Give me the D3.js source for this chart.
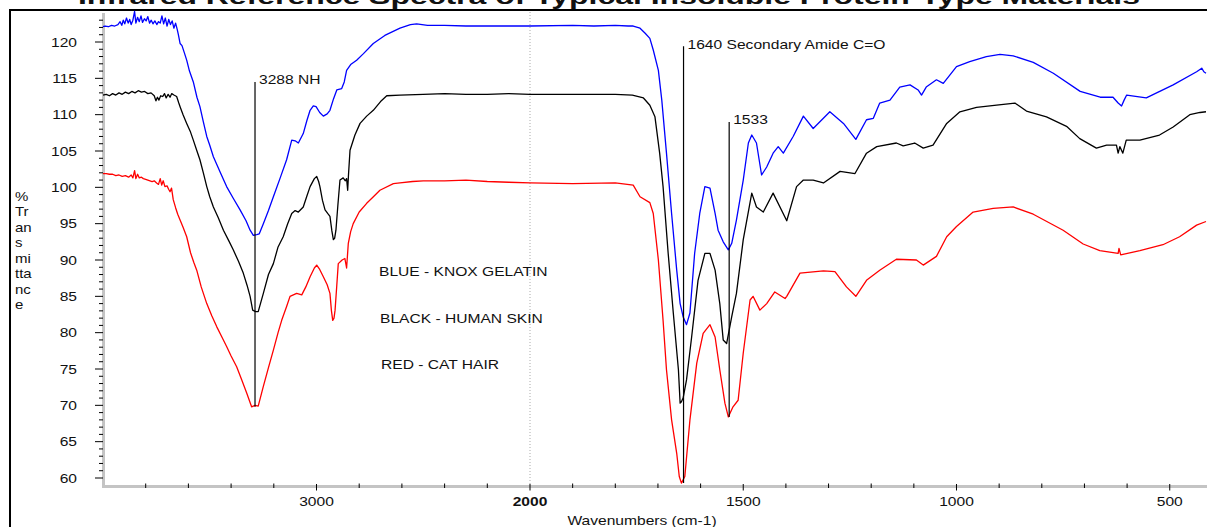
<!DOCTYPE html>
<html>
<head>
<meta charset="utf-8">
<script src="https://cdn.jsdelivr.net/npm/d3@7"></script>
<style>
  html, body { margin: 0; padding: 0; background: #fff; overflow: hidden; }
  svg { display: block; }
  text { font-family: Arial, "Liberation Sans", sans-serif; fill: #111; }
</style>
</head>
<body>
<svg id="chart" width="1207" height="527"></svg>
<script>
// Spectra: [wavenumber cm-1, % transmittance]
const knoxGelatin = [
  [4000,122.1],[3990,122.2],[3975,122.1],[3960,122.3],[3945,122.2],[3930,122.4],[3920,122.8],[3912,122.3],
  [3905,123.0],[3898,122.5],[3890,123.3],[3882,122.6],[3875,123.1],[3868,122.4],[3860,123.0],[3852,124.2],
  [3846,122.6],[3838,123.4],[3830,122.8],[3822,123.6],[3815,122.7],[3806,123.2],[3798,122.9],[3790,123.5],
  [3782,122.6],[3774,123.0],[3766,122.5],[3757,122.9],[3748,122.4],[3740,122.8],[3732,122.6],[3724,123.6],
  [3716,122.5],[3708,123.3],[3700,122.2],[3692,123.1],[3684,122.4],[3676,122.9],[3668,121.9],[3660,122.6],
  [3653,121.8],[3647,121.0],[3639,119.8],[3630,119.5],[3620,118.6],[3608,117.5],[3595,116.0],[3577,114.5],
  [3560,112.4],[3546,111.1],[3530,109.0],[3514,107.0],[3500,105.8],[3483,104.2],[3450,102.0],[3421,100.1],
  [3390,98.5],[3358,96.9],[3330,95.4],[3311,94.1],[3296,93.4],[3280,93.5],[3268,93.6],[3249,95.0],
  [3225,96.8],[3202,98.7],[3170,101.3],[3140,103.8],[3116,106.5],[3100,106.4],[3085,106.1],[3062,107.4],
  [3045,109.2],[3030,110.6],[3015,111.2],[3002,111.1],[2985,110.3],[2968,109.8],[2950,110.1],[2937,110.6],
  [2920,112.2],[2905,113.4],[2882,113.6],[2870,114.5],[2859,116.1],[2840,116.9],[2812,117.5],[2780,118.4],
  [2734,119.8],[2680,120.9],[2609,121.9],[2560,122.4],[2531,122.5],[2480,122.3],[2400,122.3],[2300,122.2],
  [2200,122.2],[2100,122.2],[2000,122.2],[1900,122.3],[1850,122.2],[1800,122.3],[1770,122.2],[1758,122.2],
  [1742,121.9],[1730,121.2],[1719,120.5],[1711,118.9],[1699,116.1],[1691,112.0],[1680,104.7],[1668,96.4],
  [1656,88.6],[1648,84.0],[1641,82.2],[1633,81.1],[1625,82.7],[1614,90.9],[1602,96.4],[1590,100.1],
  [1578,99.9],[1566,96.4],[1559,94.1],[1547,92.5],[1535,91.4],[1527,92.3],[1516,95.5],[1500,101.0],
  [1488,106.1],[1480,107.2],[1469,106.1],[1457,101.7],[1445,102.8],[1430,104.7],[1418,105.6],[1406,104.7],
  [1383,107.0],[1359,109.8],[1336,108.1],[1297,110.4],[1265,108.8],[1236,106.6],[1211,109.3],[1195,109.5],
  [1180,111.6],[1156,112.0],[1133,113.8],[1109,114.1],[1090,113.4],[1082,112.7],[1071,113.8],[1047,114.8],
  [1031,114.3],[1000,116.6],[969,117.3],[930,118.0],[898,118.3],[867,118.1],[820,117.2],[773,115.7],
  [710,113.2],[663,112.4],[633,112.4],[621,111.6],[613,111.2],[607,112.0],[601,112.7],[555,112.3],
  [492,114.1],[437,115.9],[425,116.4],[420,115.9],[415,115.7]
];

const humanSkin = [
  [4000,112.7],[3985,112.8],[3970,112.6],[3955,112.9],[3940,112.7],[3925,113.0],[3910,112.8],[3895,113.1],
  [3880,112.9],[3865,113.2],[3850,113.0],[3835,113.3],[3820,113.1],[3805,113.2],[3790,112.9],[3775,113.0],
  [3760,112.6],[3752,111.9],[3745,112.4],[3738,112.0],[3730,112.6],[3720,112.5],[3712,112.9],[3704,112.3],
  [3695,112.8],[3686,112.4],[3678,112.9],[3668,112.7],[3655,112.5],[3645,111.6],[3639,111.1],[3625,110.0],
  [3608,108.8],[3590,107.6],[3577,106.5],[3560,105.0],[3546,103.8],[3530,102.0],[3514,100.1],[3500,98.7],
  [3483,97.3],[3460,95.8],[3436,94.1],[3410,92.6],[3390,91.4],[3365,89.8],[3343,88.2],[3325,86.5],
  [3311,85.0],[3299,83.1],[3285,82.9],[3273,82.9],[3249,85.4],[3225,88.0],[3202,89.5],[3180,91.8],
  [3156,93.2],[3135,95.0],[3116,96.4],[3100,96.8],[3085,96.6],[3062,97.3],[3045,98.8],[3030,100.1],
  [3010,101.2],[2999,101.5],[2990,100.8],[2984,100.1],[2972,98.2],[2960,96.9],[2945,96.3],[2937,96.0],
  [2928,94.0],[2921,92.8],[2915,93.0],[2909,94.1],[2900,97.5],[2890,101.0],[2875,101.3],[2865,100.9],
  [2859,101.2],[2854,99.6],[2850,101.8],[2843,105.1],[2820,107.2],[2796,108.8],[2765,109.8],[2734,110.6],
  [2700,111.8],[2671,112.6],[2609,112.7],[2500,112.8],[2400,112.9],[2300,112.8],[2200,112.8],[2100,112.9],
  [2000,112.8],[1900,112.8],[1800,112.8],[1760,112.7],[1734,112.3],[1719,111.3],[1707,109.7],[1696,104.7],
  [1688,100.1],[1676,90.9],[1664,82.7],[1652,74.9],[1648,70.3],[1645,70.5],[1641,71.0],[1633,73.5],
  [1621,79.4],[1606,87.2],[1590,90.9],[1578,90.9],[1566,88.6],[1555,84.0],[1547,79.0],[1539,78.5],
  [1527,82.2],[1516,85.4],[1500,92.8],[1480,99.2],[1469,97.3],[1453,96.6],[1430,99.2],[1398,95.4],
  [1375,100.1],[1359,101.0],[1336,101.0],[1312,100.6],[1273,102.2],[1238,101.9],[1211,104.7],[1187,105.6],
  [1141,106.1],[1125,105.7],[1098,106.1],[1078,105.4],[1055,105.8],[1023,108.8],[992,110.4],[953,111.0],
  [906,111.3],[863,111.6],[836,110.5],[789,109.7],[742,108.4],[711,106.7],[672,105.4],[648,105.8],
  [625,105.8],[621,104.7],[617,105.6],[610,104.7],[602,106.5],[570,106.5],[524,107.2],[492,108.3],
  [453,110.0],[429,110.3],[415,110.4]
];

const catHair = [
  [4000,101.9],[3985,101.9],[3970,101.8],[3955,101.8],[3940,101.6],[3925,101.7],[3910,101.5],[3895,101.6],
  [3880,101.4],[3868,101.7],[3860,101.3],[3852,102.3],[3846,101.2],[3838,101.8],[3830,101.3],[3820,101.4],
  [3811,101.2],[3800,101.1],[3790,101.0],[3780,100.9],[3770,100.8],[3760,100.9],[3749,100.6],[3740,100.4],
  [3732,101.2],[3725,100.3],[3718,100.9],[3710,100.1],[3700,100.2],[3692,99.7],[3686,99.4],[3679,99.9],
  [3671,98.3],[3660,97.2],[3650,96.3],[3639,95.5],[3625,94.5],[3608,93.2],[3590,91.0],[3575,89.7],
  [3561,88.6],[3540,86.3],[3514,84.0],[3490,82.3],[3467,80.8],[3445,79.5],[3421,78.1],[3400,76.8],
  [3374,75.3],[3350,73.5],[3327,71.7],[3304,69.8],[3288,70.0],[3273,69.9],[3249,72.6],[3225,75.2],
  [3202,77.6],[3180,80.0],[3163,81.7],[3140,83.6],[3124,85.0],[3093,85.4],[3069,85.2],[3050,86.3],
  [3030,87.7],[3010,88.9],[2999,89.3],[2985,88.7],[2968,87.7],[2950,86.6],[2937,85.4],[2930,83.0],
  [2924,81.7],[2918,82.0],[2913,83.1],[2905,86.5],[2898,89.5],[2880,90.0],[2867,90.2],[2859,88.9],
  [2851,92.3],[2840,93.9],[2828,95.0],[2800,96.6],[2765,97.8],[2730,98.8],[2703,99.6],[2640,100.5],
  [2609,100.6],[2550,100.8],[2500,100.9],[2400,100.9],[2300,101.0],[2200,100.8],[2100,100.7],[2000,100.6],
  [1900,100.5],[1800,100.6],[1758,100.3],[1742,98.7],[1719,97.9],[1711,96.4],[1699,90.0],[1688,81.7],
  [1680,74.9],[1668,68.0],[1656,63.4],[1650,60.2],[1645,59.3],[1637,60.2],[1625,68.0],[1609,75.8],
  [1594,79.9],[1578,81.1],[1566,79.4],[1555,74.9],[1543,70.3],[1535,68.4],[1524,69.8],[1512,70.7],
  [1500,77.2],[1484,84.5],[1477,85.0],[1461,83.1],[1445,84.0],[1426,85.6],[1402,84.7],[1398,85.0],
  [1367,88.2],[1312,88.5],[1285,88.4],[1258,86.3],[1236,85.0],[1211,87.2],[1180,88.6],[1141,90.1],
  [1094,90.0],[1078,89.3],[1047,90.5],[1023,93.2],[1000,94.6],[961,96.6],[914,97.1],[867,97.3],
  [820,96.3],[750,94.1],[703,92.2],[664,91.3],[621,90.9],[619,91.6],[615,90.7],[570,91.3],
  [516,92.1],[477,93.2],[437,94.8],[415,95.3]
];

const seriesNames  = ["BLUE - KNOX GELATIN", "BLACK - HUMAN SKIN", "RED - CAT HAIR"];
const seriesColors = ["#0000ff", "#000000", "#ff0000"];

// Peak markers: label, wavenumber, top and bottom transmittance of the marker line
const peakLabels = ["3288 NH", "1640 Secondary Amide C=O", "1533"];
const peakWn     = [3288, 1640, 1533];
const peakTop    = [114.5, 119.4, 109.0];
const peakBottom = [69.8, 59.3, 68.4];

const yTickValues = [60, 65, 70, 75, 80, 85, 90, 95, 100, 105, 110, 115, 120];
const xTickLabels = [3000, 2000, 1500, 1000, 500];
const yTitleLines = ["%", "Tr", "an", "s", "mi", "tta", "nc", "e"];

const titleText = "Infrared Reference Spectra of Typical Insoluble Protein-Type Materials";
const xTitle = "Wavenumbers (cm-1)";

// ---------------------------------------------------------------
const svg = d3.select("#chart");
const SX = 1.2; // horizontal stretch of the lettering

// wavenumber axis is expanded below 2000 cm-1
const x = d3.scaleLinear().domain([4000, 2000, 415]).range([103, 530, 1206]);
const y = d3.scaleLinear().domain([60, 120]).range([478, 42]);

const axisY = 486.5;

function label(g, tx, ty, str, opts = {}) {
  return g.append("text")
    .attr("transform", `translate(${tx},${ty}) scale(${SX},1)`)
    .attr("text-anchor", opts.anchor || "start")
    .attr("font-size", opts.size || 13)
    .attr("font-weight", opts.weight || "normal")
    .text(str);
}

// outer frame
svg.append("rect")
  .attr("x", 10).attr("y", 10).attr("width", 1300).attr("height", 600)
  .attr("fill", "none").attr("stroke", "#000").attr("stroke-width", 2);

// title (partly above the frame)
svg.append("text")
  .attr("x", 78).attr("y", 3.5)
  .attr("font-size", 22).attr("font-weight", "bold")
  .attr("textLength", 1062).attr("lengthAdjust", "spacingAndGlyphs")
  .text(titleText);

// dotted divider at 2000
svg.append("line")
  .attr("x1", x(2000)).attr("x2", x(2000))
  .attr("y1", 12).attr("y2", axisY)
  .attr("stroke", "#aaa").attr("stroke-width", 1).attr("stroke-dasharray", "1,2");

// y axis
const yAx = svg.append("g");
yAx.append("line").attr("x1", 103.5).attr("x2", 103.5).attr("y1", 13).attr("y2", axisY + 1.5)
  .attr("stroke", "#c4c4c4").attr("stroke-width", 3);
const minorY = d3.range(60, 124);
yAx.selectAll("line.minor").data(minorY).join("line").attr("class", "minor")
  .attr("x1", d => d % 5 === 0 ? 95 : 99).attr("x2", 103)
  .attr("y1", d => y(d)).attr("y2", d => y(d))
  .attr("stroke", "#000").attr("stroke-width", 1);
yTickValues.forEach(v => label(yAx, 77, y(v) + 4.6, String(v), { anchor: "end" }));

// y title, one line per syllable
yTitleLines.forEach((s, i) => label(svg, 15, 200.5 + i * 15.5, s, { size: 12.5 }));

// x axis
const xAx = svg.append("g");
xAx.append("line").attr("x1", 102).attr("x2", 1207).attr("y1", axisY).attr("y2", axisY)
  .attr("stroke", "#c4c4c4").attr("stroke-width", 3);
const minorX = d3.range(3800, 2000, -200).concat(d3.range(2000, 400, -100));
xAx.selectAll("line.tick").data(minorX).join("line").attr("class", "tick")
  .attr("x1", d => x(d)).attr("x2", d => x(d))
  .attr("y1", d => xTickLabels.includes(d) ? 484 : 483.5)
  .attr("y2", d => xTickLabels.includes(d) ? 490.5 : 488)
  .attr("stroke", "#000").attr("stroke-width", 1);
xTickLabels.forEach(v => label(xAx, x(v), 505.5, String(v),
  { anchor: "middle", weight: v === 2000 ? "bold" : "normal" }));
label(svg, 642, 524.5, xTitle, { anchor: "middle" });

// spectra
const line = d3.line().x(d => x(d[0])).y(d => y(d[1]));
const spectra = [knoxGelatin, humanSkin, catHair];
svg.append("g").selectAll("path").data(spectra).join("path")
  .attr("d", line)
  .attr("fill", "none")
  .attr("stroke", (d, i) => seriesColors[i])
  .attr("stroke-width", 1.3)
  .attr("stroke-linejoin", "round");

// peak marker lines and labels
const pk = svg.append("g");
peakLabels.forEach((s, i) => {
  pk.append("line")
    .attr("x1", x(peakWn[i])).attr("x2", x(peakWn[i]))
    .attr("y1", y(peakTop[i])).attr("y2", y(peakBottom[i]))
    .attr("stroke", "#000").attr("stroke-width", 1.2);
  label(pk, x(peakWn[i]) + 4, y(peakTop[i]) + 2.5, s);
});

// series key
const keyY = [275.5, 322.8, 369];
const keyX = [379, 380, 381];
seriesNames.forEach((s, i) => label(svg, keyX[i], keyY[i], s));
</script>
</body>
</html>
